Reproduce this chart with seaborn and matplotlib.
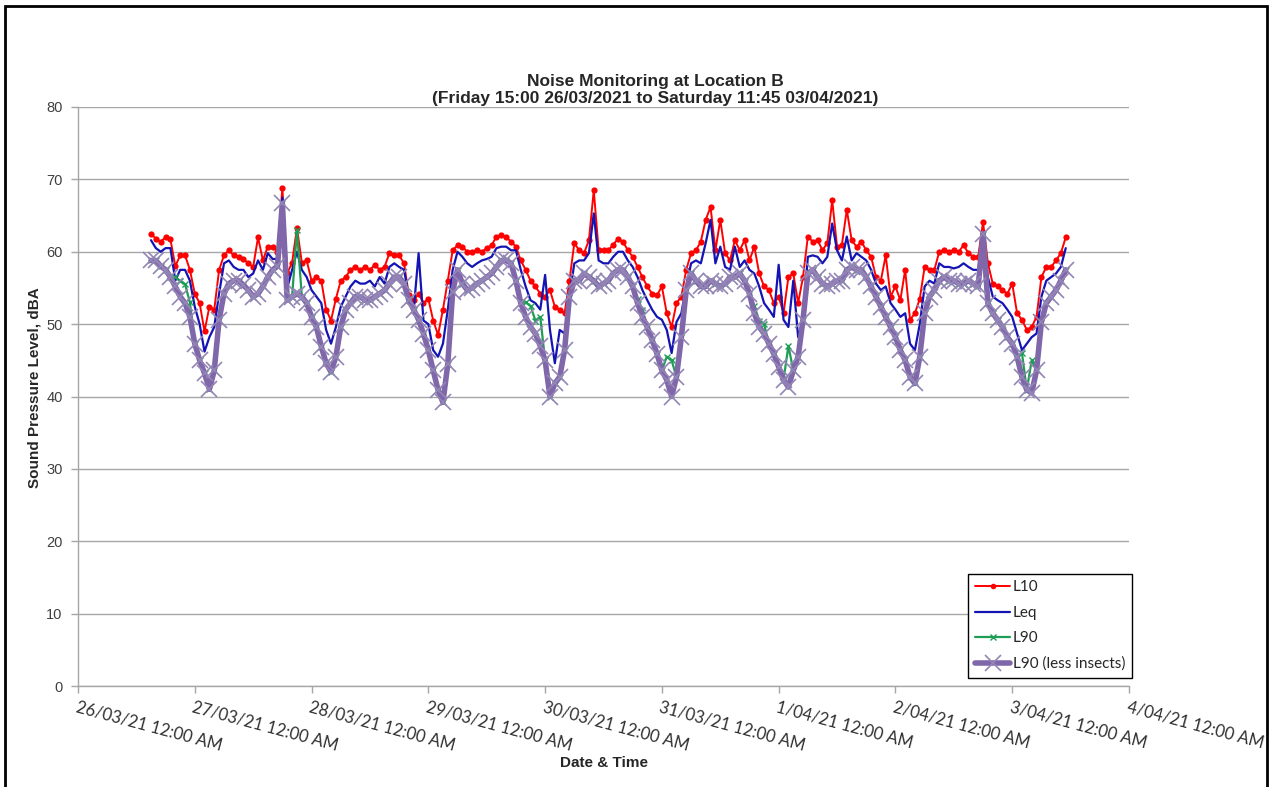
import numpy as np
import pandas as pd
import matplotlib
matplotlib.use("Agg")
import matplotlib.pyplot as plt
import seaborn as sns
from matplotlib.patches import Rectangle
from matplotlib.lines import Line2D

# ---------------- data (hourly readings, 26/03/2021 15:00 onwards) ----------------
START = "2021-03-26 15:00"

L10 = [
    62.5, 61.8, 61.4, 62.0, 61.7, 58.0, 59.5, 59.5, 57.5,
    54.2, 52.9, 49.0, 52.4, 52.0, 57.5, 59.5, 60.2, 59.5, 59.3, 59.0, 58.4, 57.9, 62.0, 58.8, 60.7, 60.7, 60.0, 68.8, 57.0, 58.5, 63.3, 58.5, 58.8,
    56.0, 56.5, 56.0, 52.0, 50.5, 53.5, 56.0, 56.5, 57.5, 57.9, 57.5, 57.9, 57.5, 58.2, 57.5, 57.9, 59.8, 59.5, 59.5, 58.4, 54.0, 53.3, 54.2, 52.9,
    53.5, 50.5, 48.5, 52.0, 56.0, 60.2, 60.9, 60.7, 60.0, 60.0, 60.2, 60.0, 60.5, 60.9, 62.1, 62.3, 62.0, 61.4, 60.7, 58.8, 57.5, 56.0, 55.2, 54.2,
    53.8, 54.7, 52.4, 52.0, 51.5, 56.0, 61.2, 60.2, 59.8, 61.6, 68.5, 60.2, 60.2, 60.2, 61.0, 61.8, 61.4, 60.2, 59.3, 57.9, 56.5, 55.2, 54.2, 54.0,
    55.2, 51.5, 49.6, 52.9, 53.8, 57.5, 59.8, 60.2, 61.4, 64.4, 66.2, 60.2, 64.4, 59.8, 58.8, 61.6, 60.2, 61.6, 58.8, 60.7, 57.0, 55.2, 54.7, 52.9,
    53.8, 51.5, 56.5, 57.0, 52.9, 56.5, 62.1, 61.4, 61.6, 60.2, 61.2, 67.1, 60.7, 61.0, 65.8, 61.6, 60.7, 61.4, 60.2, 59.3, 56.5, 56.0, 59.5, 53.8,
    55.2, 53.3, 57.5, 50.6, 51.5, 53.5, 57.9, 57.5, 57.5, 60.0, 60.2, 60.0, 60.2, 60.0, 60.9, 59.8, 59.3, 59.3, 64.1, 58.4, 55.6, 55.2, 54.7, 54.2,
    55.6, 51.5, 50.6, 49.2, 49.6, 51.0, 56.5, 57.9, 57.9, 58.8, 59.8, 62.0,
]

LEQ = [
    61.6, 60.5, 60.0, 60.5, 60.5, 56.0, 57.5, 57.5, 56.0,
    52.4, 50.0, 46.2, 48.2, 49.6, 54.2, 58.4, 58.8, 57.9, 57.5, 57.5, 56.5, 57.0, 58.8, 57.5, 59.8, 59.0, 59.0, 67.5, 55.0, 57.5, 60.0, 57.5, 56.5,
    54.7, 53.8, 52.9, 49.2, 47.3, 49.6, 52.4, 53.8, 55.2, 56.0, 55.6, 55.6, 56.0, 55.2, 56.5, 55.6, 57.9, 58.4, 57.9, 57.5, 53.8, 52.0, 59.8, 50.5,
    50.0, 46.4, 45.5, 47.3, 52.0, 57.5, 60.0, 59.3, 58.4, 57.9, 58.4, 58.8, 59.0, 59.3, 60.5, 60.7, 60.7, 60.2, 60.2, 57.5, 55.2, 53.3, 52.9, 52.0,
    56.8, 49.2, 44.6, 49.2, 48.7, 53.8, 58.4, 58.8, 58.8, 59.8, 65.3, 58.8, 58.4, 58.4, 59.3, 60.0, 60.0, 58.8, 57.9, 56.5, 54.7, 53.3, 52.0, 51.0,
    50.6, 49.2, 46.0, 50.3, 51.5, 55.2, 58.4, 58.8, 58.4, 61.2, 64.4, 58.4, 60.7, 57.9, 57.5, 60.7, 57.9, 58.8, 57.5, 57.0, 55.2, 52.9, 52.0, 51.0,
    58.2, 50.6, 49.6, 56.0, 48.2, 50.6, 59.3, 59.5, 59.3, 58.4, 59.3, 63.9, 60.2, 58.8, 62.1, 58.8, 59.8, 59.3, 58.8, 57.5, 55.6, 54.7, 55.2, 52.9,
    52.0, 51.0, 51.5, 47.3, 46.4, 50.0, 55.2, 56.0, 55.6, 58.4, 57.9, 57.9, 57.7, 57.9, 58.4, 57.9, 57.5, 57.5, 62.5, 56.5, 53.8, 53.3, 52.9, 52.0,
    51.0, 48.7, 46.4, 47.3, 48.2, 48.7, 53.8, 56.0, 56.5, 57.0, 57.9, 60.5,
]

L90 = [
    58.8, 58.8, 58.0, 57.5, 56.5, 56.5, 56.0, 55.5, 53.0,
    47.3, 45.0, 43.2, 41.0, 43.6, 50.6, 54.2, 55.6, 56.0, 56.0, 55.4, 54.7, 53.8, 54.2, 55.2, 56.5, 57.5, 58.0, 66.7, 53.3, 53.8, 63.0, 53.8, 52.9,
    51.0, 49.6, 46.9, 44.6, 43.4, 45.5, 49.6, 52.0, 52.9, 53.8, 53.8, 53.3, 53.3, 53.8, 54.2, 54.7, 55.6, 56.5, 56.5, 55.6, 53.3, 52.0, 50.6, 48.7,
    46.4, 43.6, 40.9, 39.2, 44.5, 54.5, 57.5, 55.6, 54.7, 55.0, 55.6, 56.0, 56.5, 57.0, 57.9, 58.8, 58.8, 58.4, 56.0, 52.9, 53.0, 52.5, 50.5, 51.0,
    45.0, 40.0, 41.8, 42.7, 46.4, 53.8, 56.0, 56.0, 57.0, 56.5, 56.0, 55.2, 55.6, 56.0, 57.0, 57.5, 57.5, 56.5, 55.2, 53.5, 52.0, 49.6, 47.8, 45.9,
    43.6, 45.5, 45.0, 42.7, 48.2, 54.7, 57.0, 56.0, 55.2, 55.2, 56.0, 55.6, 55.2, 55.6, 56.5, 56.5, 57.0, 56.0, 54.2, 52.5, 50.5, 50.0, 47.3, 45.9,
    44.1, 42.3, 47.0, 43.6, 45.5, 50.6, 57.0, 57.5, 56.5, 55.6, 55.2, 55.6, 56.0, 56.0, 57.5, 57.9, 57.5, 57.5, 56.5, 55.2, 53.8, 52.4, 51.0, 49.6,
    48.2, 46.4, 45.0, 42.7, 41.8, 45.5, 51.5, 53.8, 54.7, 56.0, 56.5, 56.0, 56.0, 55.6, 55.6, 56.0, 55.6, 55.2, 62.5, 52.9, 51.5, 50.6, 49.6, 48.2,
    47.3, 45.5, 46.0, 40.9, 45.0, 43.6, 50.3, 52.9, 53.8, 54.7, 56.0, 57.5,
]

L90_LESS_INSECTS = [
    58.8, 58.8, 58.0, 57.5, 56.5, 55.2, 53.8, 52.9, 51.0,
    47.3, 45.0, 43.2, 41.0, 43.6, 50.6, 54.2, 55.6, 56.0, 56.0, 55.4, 54.7, 53.8, 54.2, 55.2, 56.5, 57.5, 58.0, 66.7, 53.3, 53.8, 54.2, 53.8, 52.9,
    51.0, 49.6, 46.9, 44.6, 43.4, 45.5, 49.6, 52.0, 52.9, 53.8, 53.8, 53.3, 53.3, 53.8, 54.2, 54.7, 55.6, 56.5, 56.5, 55.6, 53.3, 52.0, 50.6, 48.7,
    46.4, 43.6, 40.9, 39.2, 44.5, 54.5, 57.5, 55.6, 54.7, 55.0, 55.6, 56.0, 56.5, 57.0, 57.9, 58.8, 58.8, 58.4, 56.0, 52.9, 51.0, 49.6, 48.7, 47.0,
    45.0, 40.0, 41.8, 42.7, 46.4, 53.8, 56.0, 56.0, 57.0, 56.5, 56.0, 55.2, 55.6, 56.0, 57.0, 57.5, 57.5, 56.5, 55.2, 52.9, 51.0, 49.6, 47.8, 45.9,
    43.6, 42.3, 40.0, 42.7, 48.2, 54.7, 57.0, 56.0, 55.2, 55.2, 56.0, 55.6, 55.2, 55.6, 56.5, 56.5, 57.0, 56.0, 54.2, 51.5, 49.6, 48.7, 47.3, 45.9,
    44.1, 42.3, 41.3, 43.6, 45.5, 50.6, 57.0, 57.5, 56.5, 55.6, 55.2, 55.6, 56.0, 56.0, 57.5, 57.9, 57.5, 57.5, 56.5, 55.2, 53.8, 52.4, 51.0, 49.6,
    48.2, 46.4, 45.0, 42.7, 41.8, 45.5, 51.5, 53.8, 54.7, 56.0, 56.5, 56.0, 56.0, 55.6, 55.6, 56.0, 55.6, 55.2, 62.5, 52.9, 51.5, 50.6, 49.6, 48.2,
    47.3, 45.5, 42.7, 40.9, 40.5, 43.6, 50.3, 52.9, 53.8, 54.7, 56.0, 57.5,
]

SERIES_NAMES = ["L10", "Leq", "L90", "L90 (less insects)"]
TICK_DATES = ["2021-03-26", "2021-03-27", "2021-03-28", "2021-03-29", "2021-03-30",
              "2021-03-31", "2021-04-01", "2021-04-02", "2021-04-03", "2021-04-04"]
TICK_LABELS = ["26/03/21 12:00 AM", "27/03/21 12:00 AM", "28/03/21 12:00 AM",
               "29/03/21 12:00 AM", "30/03/21 12:00 AM", "31/03/21 12:00 AM",
               "1/04/21 12:00 AM", "2/04/21 12:00 AM", "3/04/21 12:00 AM",
               "4/04/21 12:00 AM"]
Y_TICKS = [0, 10, 20, 30, 40, 50, 60, 70, 80]

TITLE = "Noise Monitoring at Location B\n(Friday 15:00 26/03/2021 to Saturday 11:45 03/04/2021)"
X_LABEL = "Date & Time"
Y_LABEL = "Sound Pressure Level, dBA"

# ---------------- figure ----------------
sns.set_theme(style="white")
plt.rcParams["font.family"] = ["Liberation Sans", "DejaVu Sans"]

W, H = 1272, 787
fig = plt.figure(figsize=(W / 100, H / 100), dpi=100)
fig.patch.set_facecolor("white")
L, R, T, B = 78, 1129, 107, 686
ax = fig.add_axes([L / W, 1 - B / H, (R - L) / W, (B - T) / H])

times = pd.date_range(START, periods=len(L10), freq="h")
df = pd.DataFrame({"time": times, SERIES_NAMES[0]: L10, SERIES_NAMES[1]: LEQ,
                   SERIES_NAMES[2]: L90, SERIES_NAMES[3]: L90_LESS_INSECTS})

RED, BLUE, GREEN, PURPLE, PURPLE_MK = "#FF0000", "#1414B4", "#1E9E55", "#7F67AA", "#9385B5"

sns.lineplot(data=df, x="time", y=SERIES_NAMES[0], ax=ax, color=RED, lw=1.4,
             marker="o", markersize=4.5, markeredgewidth=0, markerfacecolor=RED, zorder=3)
sns.lineplot(data=df, x="time", y=SERIES_NAMES[1], ax=ax, color=BLUE, lw=1.6, zorder=4)
sns.lineplot(data=df, x="time", y=SERIES_NAMES[2], ax=ax, color=GREEN, lw=1.6,
             marker="x", markersize=4, markeredgewidth=1, markeredgecolor=GREEN, zorder=5)
sns.lineplot(data=df, x="time", y=SERIES_NAMES[3], ax=ax, color=PURPLE, lw=4,
             marker="x", markersize=11, markeredgewidth=1.2, markeredgecolor=PURPLE_MK, zorder=6)

tick_pos = pd.to_datetime(TICK_DATES)
ax.set_xlim(tick_pos[0], tick_pos[-1])
ax.set_ylim(0, 80)
ax.set_yticks(Y_TICKS)
ax.set_yticklabels([str(v) for v in Y_TICKS])
ax.set_xticks(tick_pos)
ax.set_xticklabels(TICK_LABELS, rotation=-15, ha="left", va="top",
                   rotation_mode="anchor", fontfamily=["Lato", "DejaVu Sans"], fontsize=12)
ax.set_xlabel("")
ax.set_ylabel("")

ax.grid(axis="y", color="#A6A6A6", lw=1)
ax.grid(axis="x", visible=False)
ax.set_axisbelow(True)
for s in ["top", "right"]:
    ax.spines[s].set_visible(False)
for s in ["left", "bottom"]:
    ax.spines[s].set_color("#A6A6A6")
    ax.spines[s].set_linewidth(1)
ax.tick_params(axis="both", which="major", direction="out", length=5, width=1,
               color="#A6A6A6", left=True, bottom=True)
ax.tick_params(axis="y", labelsize=10.5, labelcolor="#404040", pad=6)
ax.tick_params(axis="x", labelcolor="#303030", pad=4)

fig.text(655 / W, 1 - 90 / H, TITLE, ha="center", va="center", fontsize=12.5,
         fontweight="bold", linespacing=1.2)
fig.text(604 / W, 1 - 763 / H, X_LABEL, ha="center", va="center", fontsize=11,
         fontweight="bold")
fig.text(35 / W, 1 - 388 / H, Y_LABEL, ha="center", va="center", rotation=90,
         fontsize=11, fontweight="bold")

handles = [
    Line2D([], [], color=RED, lw=1.4, marker="o", markersize=4, markeredgewidth=0),
    Line2D([], [], color=BLUE, lw=1.6),
    Line2D([], [], color=GREEN, lw=1.6, marker="x", markersize=5, markeredgewidth=1),
    Line2D([], [], color=PURPLE, lw=4, marker="x", markersize=11, markeredgewidth=1.2,
           markeredgecolor=PURPLE_MK),
]
leg = ax.legend(handles, SERIES_NAMES, loc="lower right",
                bbox_to_anchor=(1132 / W, 1 - 678 / H), bbox_transform=fig.transFigure,
                frameon=True, fancybox=False, framealpha=1, edgecolor="black",
                prop={"family": ["Lato", "DejaVu Sans"], "size": 11},
                handlelength=2.3, handletextpad=0.15, labelspacing=0.75,
                borderpad=0.45, borderaxespad=0, numpoints=1)
leg.get_frame().set_linewidth(1)
leg.set_zorder(10)

fig.patches.append(Rectangle((5 / W, -0.01), (1266.5 - 5) / W, 1.01 - 6 / H,
                             transform=fig.transFigure, fill=False,
                             edgecolor="black", lw=2, zorder=20))

fig.savefig("out.png", dpi=100, facecolor="white")
